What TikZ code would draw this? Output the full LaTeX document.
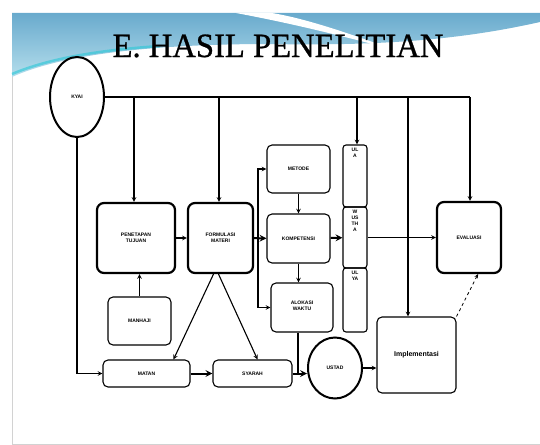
\documentclass[tikz,border=0pt]{standalone}
\usepackage{fontspec}
\setmainfont{Liberation Serif}
\setsansfont{Liberation Sans}
\newfontfamily\titlefont[FakeStretch=0.96, FakeBold=0.8]{Liberation Serif}
\usetikzlibrary{shapes.geometric}

\definecolor{bannerdark}{RGB}{105,170,205}
\definecolor{bannerlight}{RGB}{180,222,236}
\definecolor{bannercyan}{RGB}{40,200,215}

\tikzset{
	box/.style={draw, rounded corners=5pt, line width=1.1pt, inner sep=1pt, align=center, font=\sffamily\bfseries\fontsize{5}{6}\selectfont},
	bigbox/.style={box, line width=2.2pt, rounded corners=7pt},
	person/.style={draw, ellipse, line width=2pt, inner sep=0pt, font=\sffamily\bfseries\fontsize{5}{6}\selectfont},
	bar/.style={box, minimum width=24, rounded corners=3pt, inner sep=0pt},
}

\begin{document}
\begin{tikzpicture}[x=1pt, y=-1pt, ->, >=stealth, line width=1.1pt]

	\useasboundingbox (0,0) rectangle (540,444);

	% draw slide and banner
	\draw[-, gray!35, line width=0.6pt, fill=white] (12,13) rectangle (540,444);
	\shade[top color=bannerdark, bottom color=bannerlight] (12,13) -- (540,13) -- (540,22) .. controls (460,40) and (380,46) .. (270,44) .. controls (150,44) and (60,55) .. (12,77) -- cycle;
	\fill[white] (236,13) .. controls (300,25) and (345,37) .. (392,49) .. controls (340,30) and (302,18) .. (272,13) -- cycle;
	\draw[-, bannercyan, line width=2.5pt, opacity=0.6] (12,74) .. controls (50,58) and (100,50) .. (160,46);
	\node[anchor=base, font=\titlefont\fontsize{34}{36}\selectfont] (title) at (278,57) {E. HASIL PENELITIAN};

	% draw nodes
	\node[person, minimum width=54, minimum height=80] (kyai) at (77,97) {KYAI};
	\node[bigbox, minimum width=78, minimum height=70] (tujuan) at (136,238) {PENETAPAN\\TUJUAN};
	\node[box, minimum width=63, minimum height=48] (manhaj) at (139.5,321) {MANHAJI};
	\node[bigbox, minimum width=65, minimum height=70] (materi) at (220.5,238) {FORMULASI\\MATERI};
	\node[box, minimum width=63, minimum height=48] (metode) at (298.5,169) {METODE};
	\node[box, minimum width=63, minimum height=49] (kompetensi) at (298.5,238.5) {KOMPETENSI};
	\node[box, minimum width=62, minimum height=49] (alokasi) at (302,307.5) {\raisebox{6pt}{\parbox{50pt}{\centering ALOKASI\\WAKTU}}};
	\node[bar, minimum height=62] (ula) at (355,176) {\parbox[c][56pt][t]{20pt}{\centering UL\\A}};
	\node[bar, minimum height=61] (wustha) at (355,237.5) {\parbox[c][55pt][t]{20pt}{\centering W\\US\\TH\\A}};
	\node[bar, minimum height=64] (ulya) at (355,300) {\parbox[c][58pt][t]{20pt}{\centering UL\\YA}};
	\node[bigbox, minimum width=64, minimum height=71] (evaluasi) at (469,237.5) {EVALUASI};
	\node[box, minimum width=87, minimum height=27] (matan) at (146.5,373.5) {MATAN};
	\node[box, minimum width=79, minimum height=27] (syarah) at (252.5,373.5) {SYARAH};
	\node[person, minimum width=54, minimum height=61] (ustad) at (335,368) {USTAD};
	\node[box, minimum width=79, minimum height=76, font=\sffamily\bfseries\fontsize{7}{8}\selectfont] (impl) at (416.5,355) {Implementasi};

	% draw edges from kyai
	\foreach \s/\x/\t in {1/134/tujuan, 2/219/materi, 3/357/ula, 4/408/impl, 5/470/evaluasi}
	{
		\coordinate (d_\s) at (\x,97);
		\draw (d_\s) -- (d_\s |- \t.north);
	}
	\draw[-] (kyai.east) -- (d_5);
	\draw (kyai.south) |- (matan.west);

	% draw edges
	\draw (manhaj.north) -- (manhaj.north |- tujuan.south);
	\draw (tujuan) -- (materi);
	\draw[line width=2pt] (materi) -- (kompetensi);
	\coordinate (split) at (258,238);
	\draw (split) |- (metode.west);
	\draw (split) |- (alokasi.west);
	\draw (metode) -- (kompetensi);
	\draw (kompetensi.south) -- (kompetensi.south |- alokasi.north);
	\draw[line width=2pt] (kompetensi) -- (wustha);
	\draw (wustha) -- (evaluasi);
	\draw ([xshift=-7]materi.south) -- ([xshift=27]matan.north);
	\draw ([xshift=-2]materi.south) -- ([xshift=5]syarah.north);
	\draw[line width=2pt] (matan) -- (syarah);
	\draw[line width=2pt] (syarah.east) -- (syarah.east -| ustad.west);
	\coordinate (join) at ([xshift=-4]alokasi.south |- syarah.east);
	\draw[-] ([xshift=-4]alokasi.south) -- (join);
	\draw (ustad.east) -- (ustad.east -| impl.west);
	\draw[dashed, line width=0.8pt] (impl.north east) -- ([xshift=9]evaluasi.south);

\end{tikzpicture}
\end{document}
